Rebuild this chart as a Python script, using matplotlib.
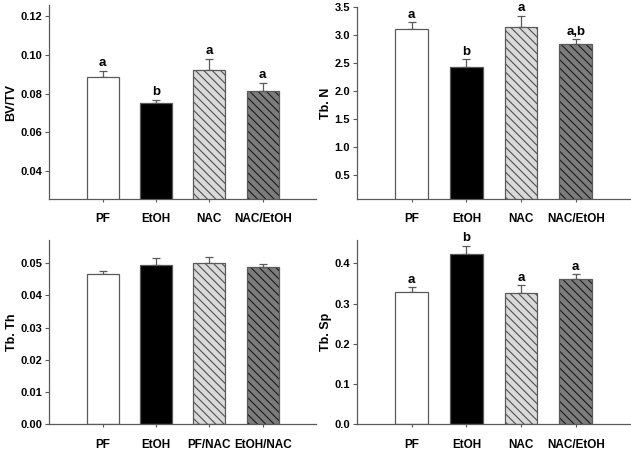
import matplotlib
matplotlib.use("Agg")
import matplotlib.pyplot as plt
import numpy as np

plt.rcParams['font.family'] = ['Liberation Sans', 'DejaVu Sans']
plt.rcParams['font.weight'] = 'bold'
plt.rcParams['hatch.linewidth'] = 0.8

groups = ["PF", "EtOH", "NAC", "NAC/EtOH"]
groups_th = ["PF", "EtOH", "PF/NAC", "EtOH/NAC"]

bvtv = [0.0888, 0.0750, 0.0923, 0.0814]
bvtv_err = [0.0030, 0.0019, 0.0057, 0.0042]
bvtv_lab = ["a", "b", "a", "a"]

tbn = [3.10, 2.43, 3.14, 2.84]
tbn_err = [0.12, 0.14, 0.20, 0.08]
tbn_lab = ["a", "b", "a", "a,b"]

tbth = [0.0466, 0.0493, 0.0499, 0.0489]
tbth_err = [0.0010, 0.0023, 0.0021, 0.0008]

tbsp = [0.328, 0.423, 0.325, 0.360]
tbsp_err = [0.012, 0.021, 0.020, 0.013]
tbsp_lab = ["a", "b", "a", "a"]

faces = ["white", "black", "#dadada", "#7c7c7c"]
hatches = [None, None, "\\\\\\\\", "\\\\\\\\"]
hatch_cols = ["#555555", "#555555", "#505050", "#1a1a1a"]
edge = "#5a5a5a"

fig = plt.figure(figsize=(6.31, 4.51), dpi=100)


def panel(rect, vals, errs, names, ylabel, ylim, yticks, fmt, letters=None):
    ax = fig.add_axes(rect)
    x = np.arange(len(vals))
    # hatch layer, then outline
    for i in range(len(vals)):
        ax.bar(x[i], vals[i], 0.6, color=faces[i], hatch=hatches[i],
               edgecolor=hatch_cols[i], linewidth=0, zorder=2)
    ax.bar(x, vals, 0.6, facecolor="none", edgecolor=edge, linewidth=0.9, zorder=3)
    ax.errorbar(x, vals, yerr=[np.zeros(len(vals)), errs], fmt="none",
                ecolor=edge, elinewidth=0.9, capsize=3, capthick=0.9, zorder=1)
    if letters:
        for i in range(len(vals)):
            ax.annotate(letters[i], (x[i], vals[i] + errs[i]), xytext=(0, 1),
                        textcoords="offset points", ha="center", va="bottom",
                        fontsize=9.5, fontweight="bold", annotation_clip=False)
    ax.set_xlim(-1, 4)
    ax.set_ylim(*ylim)
    ax.set_xticks(x)
    ax.set_xticklabels(names, fontsize=8.5, fontweight="bold")
    ax.set_yticks(yticks)
    ax.set_yticklabels([fmt.format(t) for t in yticks], fontsize=8, fontweight="bold")
    ax.set_ylabel(ylabel, fontsize=9, fontweight="bold", labelpad=2)
    for s in ["top", "right"]:
        ax.spines[s].set_visible(False)
    for s in ["left", "bottom"]:
        ax.spines[s].set_color(edge)
        ax.spines[s].set_linewidth(0.9)
    ax.tick_params(axis="y", direction="out", length=3, color=edge, pad=2)
    ax.tick_params(axis="x", direction="out", length=2.5, color=edge, pad=8)
    return ax


panel([0.078, 0.559, 0.423, 0.429], bvtv, bvtv_err, groups, "BV/TV",
      (0.0254, 0.1257), [0.04, 0.06, 0.08, 0.10, 0.12], "{:.2f}", bvtv_lab)
panel([0.566, 0.559, 0.433, 0.426], tbn, tbn_err, groups, "Tb. N",
      (0.08, 3.5), [0.5, 1.0, 1.5, 2.0, 2.5, 3.0, 3.5], "{:.1f}", tbn_lab)
panel([0.078, 0.059, 0.423, 0.409], tbth, tbth_err, groups_th, "Tb. Th",
      (0, 0.0572), [0, 0.01, 0.02, 0.03, 0.04, 0.05], "{:.2f}")
panel([0.566, 0.059, 0.433, 0.409], tbsp, tbsp_err, groups, "Tb. Sp",
      (0, 0.458), [0, 0.1, 0.2, 0.3, 0.4], "{:.1f}", tbsp_lab)

fig.savefig("out.png", dpi=100)
